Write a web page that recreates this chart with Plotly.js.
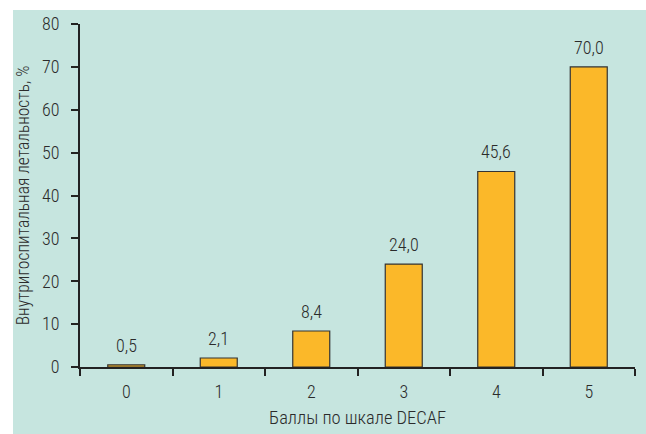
<!DOCTYPE html>
<html>
<head>
<meta charset="utf-8">
<script src="https://cdn.plot.ly/plotly-3.0.1.min.js"></script>
<style>
  html, body { margin: 0; padding: 0; background: #ffffff; width: 646px; height: 434px; overflow: hidden; }
  #chart { position: absolute; left: 13px; top: 10px; width: 633px; height: 424px; }
</style>
</head>
<body>
<div id="chart"></div>
<script>
const categories = ["0", "1", "2", "3", "4", "5"];
const mortality = [0.5, 2.1, 8.4, 24.0, 45.6, 70.0];
const yTicks = [0, 10, 20, 30, 40, 50, 60, 70, 80];
const xTitle = "Баллы по шкале DECAF";
const yTitle = "Внутригоспитальная летальность, %";

const FONT = "'Roboto Condensed', 'Liberation Sans Narrow', 'Arial Narrow', sans-serif";
const INK = "#2b2b2b";
const W = 300;

const trace = {
  type: "bar",
  x: categories,
  y: mortality,
  width: 0.4,
  marker: { color: "#fbb829", line: { color: "#333333", width: 1.2 } },
  hoverinfo: "none"
};

const annotations = categories.map((c, i) => ({
  x: c,
  y: mortality[i],
  xref: "x",
  yref: "y",
  text: mortality[i].toFixed(1).replace(".", ","),
  showarrow: false,
  yanchor: "bottom",
  yshift: 7,
  font: { family: FONT, size: 18, color: INK, weight: W }
}));

const layout = {
  width: 633,
  height: 424,
  margin: { l: 67, r: 11, t: 14, b: 67 },
  paper_bgcolor: "#c6e5df",
  plot_bgcolor: "#c6e5df",
  showlegend: false,
  font: { family: FONT, size: 18, color: INK, weight: W },
  xaxis: {
    type: "category",
    range: [-0.5, 5.5],
    showline: true,
    linecolor: "#222222",
    linewidth: 2,
    ticks: "outside",
    tickson: "boundaries",
    ticklen: 7,
    tickwidth: 2,
    tickcolor: "#222222",
    ticklabelstandoff: 7,
    showgrid: false,
    zeroline: false,
    tickfont: { family: FONT, size: 18, color: INK, weight: W },
    title: { text: xTitle, font: { family: FONT, size: 18.5, color: INK, weight: W }, standoff: 10 }
  },
  yaxis: {
    range: [0, 80],
    tickvals: yTicks,
    showline: true,
    linecolor: "#222222",
    linewidth: 2,
    ticks: "outside",
    ticklen: 7,
    tickwidth: 2,
    tickcolor: "#222222",
    ticklabelstandoff: 8,
    showgrid: false,
    zeroline: false,
    tickfont: { family: FONT, size: 18, color: INK, weight: W },
    title: { text: yTitle, font: { family: FONT, size: 17.5, color: INK, weight: W }, standoff: 14 }
  },
  annotations: annotations
};

Plotly.newPlot("chart", [trace], layout, { displayModeBar: false, staticPlot: true });
</script>
</body>
</html>
